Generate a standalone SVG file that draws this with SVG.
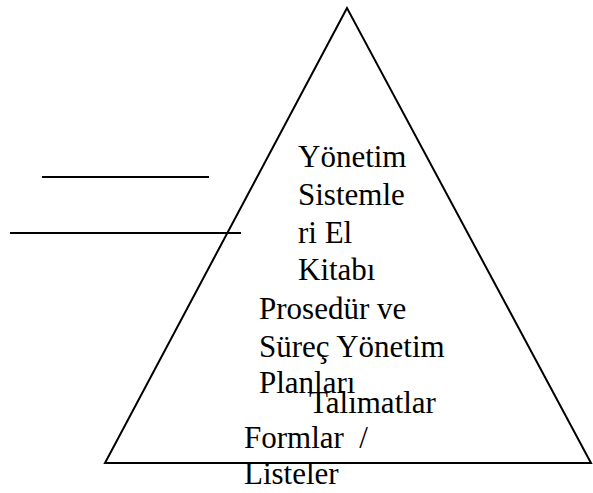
<svg xmlns="http://www.w3.org/2000/svg" width="593" height="493" viewBox="0 0 593 493">
<style>
.ln{stroke:#000;stroke-width:2;fill:none}
text{font-family:"Liberation Serif","Times New Roman",serif;font-size:31px;fill:#000}
</style>
<rect width="593" height="493" fill="#fff"/>
<g id="connectors">
<line class="ln" x1="42" y1="177" x2="209" y2="177"/>
<line class="ln" x1="10" y1="233" x2="241" y2="233"/>
</g>
<g id="pyramid">
<polygon class="ln" points="347,8 105,463 591,463"/>
</g>
<g id="level1">
<text x="298" y="167">Yönetim</text>
<text x="298" y="205">Sistemle</text>
<text x="298" y="243">ri El</text>
<text x="298" y="280">Kitabı</text>
</g>
<g id="level2">
<text x="259" y="319">Prosedür ve</text>
<text x="259" y="357">Süreç Yönetim</text>
<text x="259" y="393">Planları</text>
</g>
<g id="level3">
<text x="309" y="413">Talımatlar</text>
</g>
<g id="level4">
<text x="244" y="448" xml:space="preserve">Formlar  /</text>
<text x="244" y="484">Listeler</text>
</g>
</svg>
